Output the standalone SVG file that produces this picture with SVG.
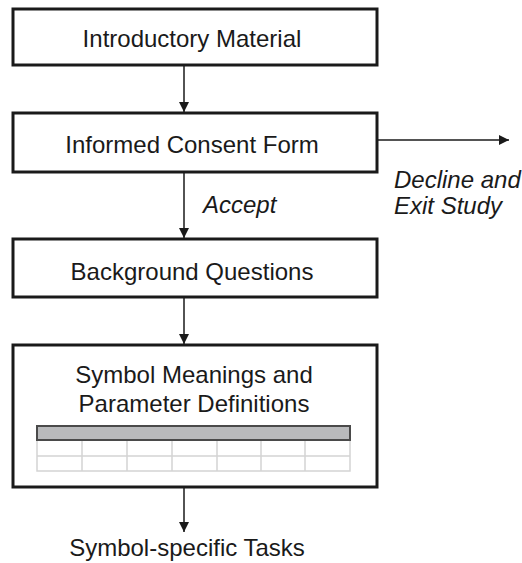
<svg xmlns="http://www.w3.org/2000/svg" width="522" height="563" viewBox="0 0 522 563">
  <style>
    .box { fill: #ffffff; stroke: #1a1a1a; stroke-width: 3; }
    .lbl { font-family: "Liberation Sans", Arial, sans-serif; font-size: 24px; fill: #1a1a1a; text-anchor: middle; }
    .note { font-family: "Liberation Sans", Arial, sans-serif; font-size: 24px; font-style: italic; fill: #1a1a1a; }
    .conn { stroke: #1a1a1a; stroke-width: 1.5; fill: none; marker-end: url(#head); }
    .grid { stroke: #d4d4d4; stroke-width: 1.5; fill: none; }
  </style>
  <defs>
    <marker id="head" viewBox="0 0 10 10" refX="10" refY="5" markerWidth="10" markerHeight="10" markerUnits="userSpaceOnUse" orient="auto">
      <path d="M0,0 L10,5 L0,10 Z" fill="#1a1a1a"/>
    </marker>
  </defs>
  <rect width="522" height="563" fill="#ffffff"/>

  <g id="connectors">
    <line class="conn" x1="184" y1="65" x2="184" y2="112"/>
    <line class="conn" x1="377" y1="140" x2="509" y2="140"/>
    <line class="conn" x1="184" y1="172" x2="184" y2="238"/>
    <line class="conn" x1="184" y1="297" x2="184" y2="344"/>
    <line class="conn" x1="184" y1="487" x2="184" y2="532"/>
  </g>

  <g id="intro">
    <rect class="box" x="13" y="9" width="364" height="56"/>
    <text class="lbl" x="192" y="47">Introductory Material</text>
  </g>

  <g id="consent">
    <rect class="box" x="13" y="113" width="364" height="59"/>
    <text class="lbl" x="192" y="153">Informed Consent Form</text>
  </g>

  <g id="decline">
    <text class="note" x="394" y="188">Decline and</text>
    <text class="note" x="394" y="214">Exit Study</text>
  </g>

  <g id="accept">
    <text class="note" x="203" y="213">Accept</text>
  </g>

  <g id="background">
    <rect class="box" x="13" y="239" width="364" height="58"/>
    <text class="lbl" x="192" y="280">Background Questions</text>
  </g>

  <g id="symbols">
    <rect class="box" x="13" y="345" width="364" height="142"/>
    <text class="lbl" x="194" y="383">Symbol Meanings and</text>
    <text class="lbl" x="194" y="412">Parameter Definitions</text>
    <rect x="37" y="426" width="313" height="14" fill="#b9babc" stroke="#4a4a4a" stroke-width="2"/>
    <path class="grid" d="M37,441 V471 H350 V441 M37,456 H350 M82,441 V471 M127,441 V471 M172,441 V471 M217,441 V471 M261,441 V471 M305,441 V471"/>
  </g>

  <g id="tasks">
    <text class="lbl" x="187" y="556">Symbol-specific Tasks</text>
  </g>
</svg>
